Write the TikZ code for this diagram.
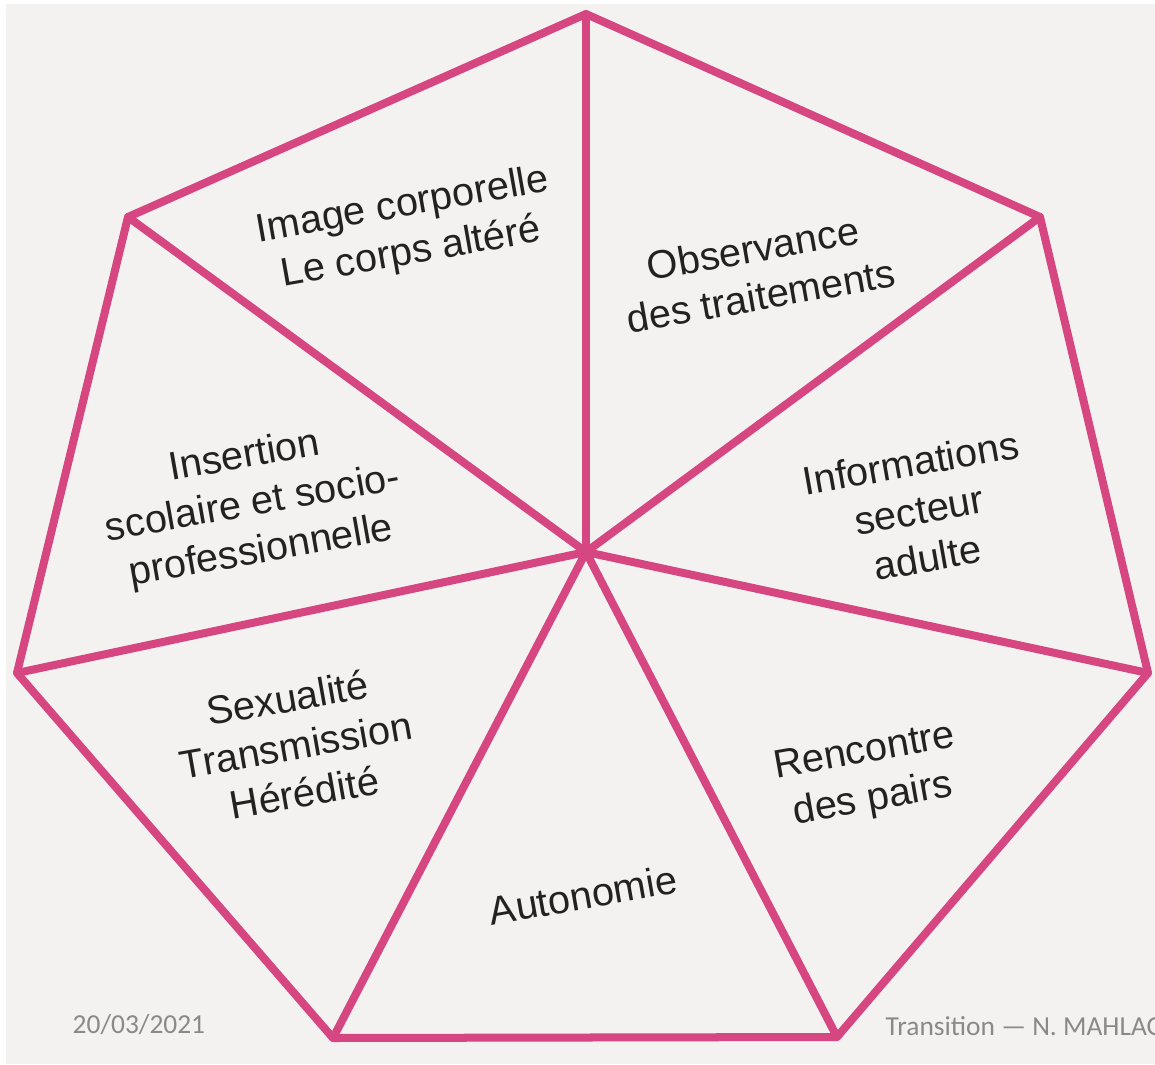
\documentclass[tikz,border=0pt]{standalone}
\usepackage{fontspec}
\setmainfont{Liberation Sans}
\newfontfamily\footfont{Carlito}
\usepackage{xcolor}
\definecolor{P1}{RGB}{214,70,128}
\definecolor{BG}{RGB}{244,242,241}
\definecolor{T1}{RGB}{34,34,34}
\definecolor{F1}{RGB}{137,137,137}

\tikzset{
    edge/.style={draw=P1, line width=0.08cm, line join=round, line cap=round},
    theme/.style={align=center, rotate=10, text=T1, inner sep=0pt,
                  font=\fontsize{11.3}{13.7}\selectfont},
    foot/.style={anchor=base west, text=F1, inner sep=0pt,
                 font=\footfont\fontsize{7.8}{9}\selectfont}
}

\begin{document}
\begin{tikzpicture}[x=0.01cm, y=-0.01cm]
    \clip (0, 0) rectangle (1155, 1064);
    \fill [white] (0, 0) rectangle (1155, 1064);
    \fill [BG] (6, 4) rectangle (1155, 1064);

    \coordinate (centre) at (586, 552);

    \foreach[count=\i] \px/\py in {586/14,
                                   1040/217,
                                   1148/673,
                                   837/1037,
                                   333/1038,
                                   17/673,
                                   128/217}{
        \coordinate (v\i) at (\px, \py);
        \draw [edge] (centre) -- (v\i);
    }

    \draw [edge] (v1) \foreach \i in {2,...,7}{-- (v\i)} -- cycle;

    \node [theme] (image) at (407, 230) {Image corporelle\\Le corps altéré};
    \node [theme] (observance) at (757, 272) {Observance\\des traitements};
    \node [theme] (infos) at (919, 510) {Informations\\secteur\\adulte};
    \node [theme] (pairs) at (869, 777) {Rencontre\\des pairs};
    \node [theme] (autonomie) at (583, 895) {Autonomie};
    \node [theme] (sexualite) at (296, 745) {Sexualité\\Transmission\\Hérédité};
    \node [theme] (insertion) at (253, 505) {Insertion\\scolaire et socio-\\professionnelle};

    \node [foot] (date) at (72, 1033) {20/03/2021};
    \node [foot] (titre) at (885, 1035) {Transition — N. MAHLAO};
\end{tikzpicture}
\end{document}
